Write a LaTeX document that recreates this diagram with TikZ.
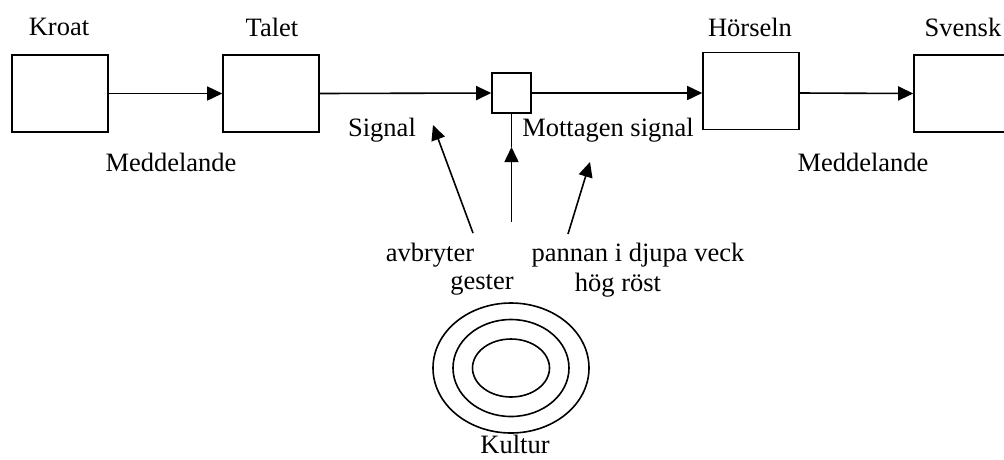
\documentclass[tikz,border=0pt]{standalone}
\usepackage{fontspec}
\setmainfont{Liberation Serif}
\usetikzlibrary{arrows.meta,shapes.geometric}
\begin{document}
\begin{tikzpicture}[x=1pt,y=-1pt,
  blk/.style={draw,line width=1.6pt,minimum width=96pt,minimum height=77pt,inner sep=0pt},
  sbox/.style={draw,line width=1.6pt,minimum width=39pt,minimum height=40pt,inner sep=0pt},
  lbl/.style={font=\fontsize{26.5}{30}\selectfont,inner sep=0pt,anchor=center},
  flow/.style={line width=1.6pt,-{Triangle[length=15pt,width=14pt]}},
  ring/.style={draw,line width=1.6pt,ellipse,inner sep=0pt}]
\useasboundingbox (0,0) rectangle (1004,459);
\clip (0,0) rectangle (1004,459);
% blocks of the chain
\node[blk] (kroat) at (60,93.5) {};
\node[blk] (talet) at (271,93.5) {};
\node[sbox] (kanal) at (511.5,93) {};
\node[blk] (horseln) at (751,91) {};
\node[blk] (svensk) at (962,93.5) {};
% titles above the blocks
\node[lbl] (tk) at (59,27) {Kroat};
\node[lbl] (tt) at (272,27) {Talet};
\node[lbl] (th) at (750,27) {Hörseln};
\node[lbl] (ts) at (963,27) {Svensk};
% labels below the chain
\node[lbl] (m1) at (171,162) {Meddelande};
\node[lbl] (sig) at (382,130) {Signal};
\node[lbl] (mot) at (608,130) {Mottagen signal};
\node[lbl] (m2) at (863,162) {Meddelande};
\node[lbl] (avb) at (430,255) {avbryter};
\node[lbl] (ges) at (482,285) {gester};
\node[lbl] (pan) at (638,255) {pannan i djupa veck};
\node[lbl] (hog) at (618,285) {hög röst};
\node[lbl] (kul) at (515,444) {Kultur};
% chain arrows
\draw[flow] (kroat.east) -- (talet.west);
\draw[flow] (talet.east) -- (kanal.west);
\draw[flow] (kanal.east) -- (horseln.west |- kanal.east);
\draw[flow] (horseln.east |- kanal.east) -- (svensk.west);
% disturbances
\coordinate (a1s) at (473,233);
\coordinate (a1e) at (433,125);
\coordinate (a2s) at (511.5,222);
\coordinate (a2e) at (511.5,147);
\coordinate (a3s) at (568,234);
\coordinate (a3e) at (590,162);
\draw[flow] (a1s) -- (a1e);
\draw[flow] (a2s) -- (a2e);
\draw[line width=1.6pt] (a2e) -- (kanal.south);
\draw[flow] (a3s) -- (a3e);
% culture rings
\node[ring,minimum width=156pt,minimum height=130pt] (r1) at (511,368) {};
\node[ring,minimum width=116pt,minimum height=97pt] (r2) at (511,368) {};
\node[ring,minimum width=77pt,minimum height=58pt] (r3) at (511,368) {};
\end{tikzpicture}
\end{document}
